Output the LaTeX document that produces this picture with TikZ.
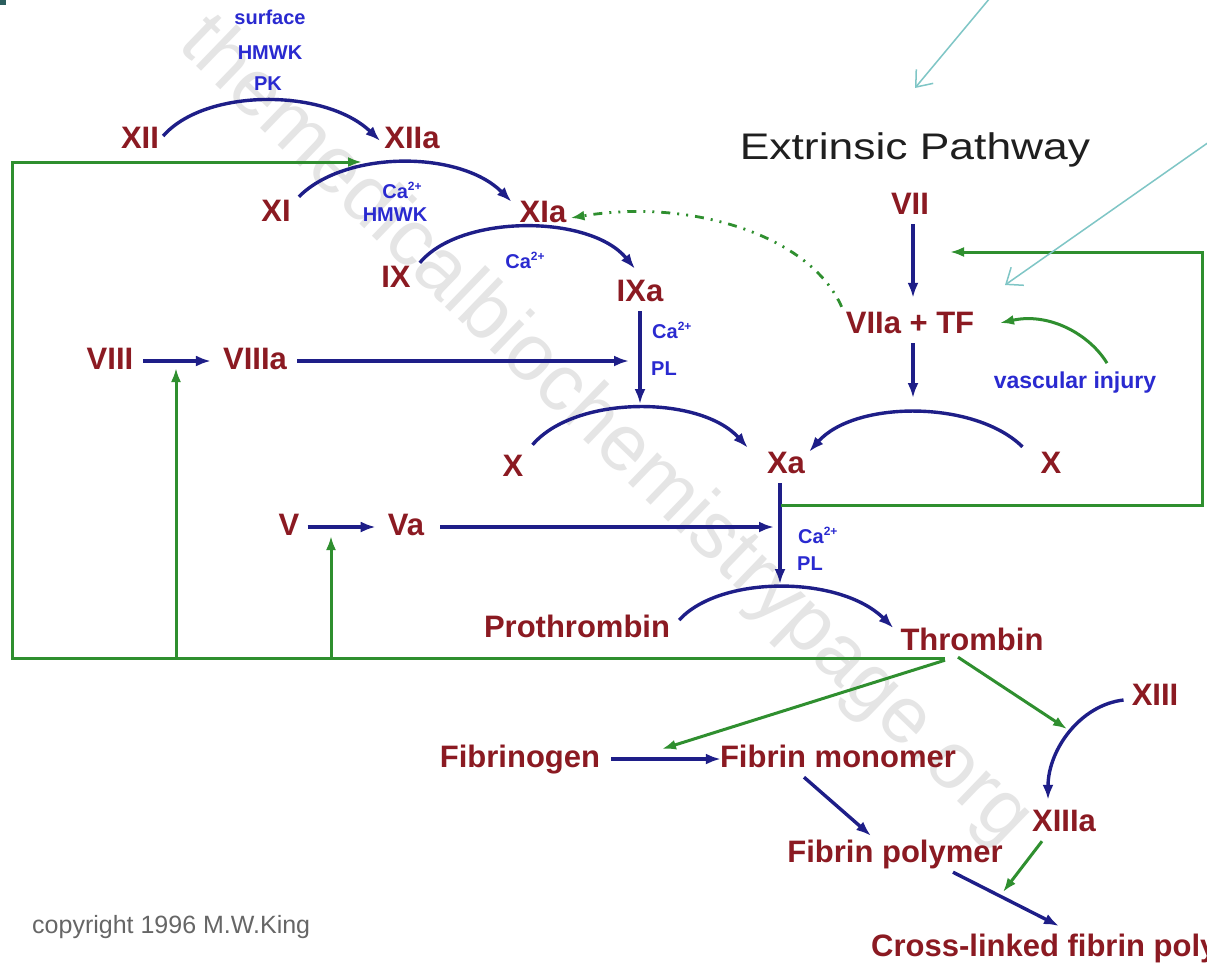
\documentclass[tikz,border=0pt]{standalone}
\usepackage{fontspec}
\setmainfont{Liberation Sans}
\newfontfamily\titlef[FakeStretch=1.2]{Liberation Sans}
\usetikzlibrary{arrows.meta}
\definecolor{redlab}{HTML}{8B1A22}
\definecolor{arrblue}{HTML}{1E1E88}
\definecolor{lblue}{HTML}{2A2AD0}
\definecolor{grn}{HTML}{2F8F2F}
\definecolor{cyanl}{HTML}{7FC6C6}
\definecolor{tealsq}{HTML}{2B5E5E}
\newcommand\caion{Ca\raisebox{8pt}{\fontsize{12}{12}\selectfont 2+}}
\begin{document}
\begin{tikzpicture}[x=1pt,y=-1pt,
  rlab/.style={font=\bfseries\fontsize{31}{31}\selectfont, text=redlab, inner sep=4pt, text height=22pt, text depth=6pt, anchor=base},
  blab/.style={font=\bfseries\fontsize{20}{20}\selectfont, text=lblue, inner sep=0pt, anchor=base},
  barr/.style={draw=arrblue, line width=3.4pt, -{Latex[length=15pt,width=11pt]}},
  garr/.style={draw=grn, line width=3pt, -{Latex[length=14pt,width=10pt]}},
  carr/.style={draw=cyanl, line width=1.5pt, -{Straight Barb[length=14pt,width=22pt]}}]
\useasboundingbox (0,0) rectangle (1207,962);
\fill[white] (0,0) rectangle (1207,962);
\clip (0,0) rectangle (1207,962);
% watermark
\node[rotate=-44, text=gray!20, font=\fontsize{80}{80}\selectfont] (wm) at (605,432) {themedicalbiochemistrypage.org};
\fill[tealsq] (0,0) rectangle (6,5);
% title and copyright
\node[font=\titlef\fontsize{37}{37}\selectfont, text=black!88, anchor=base] (title) at (915,159) {Extrinsic Pathway};
\node[anchor=base west, font=\fontsize{25}{25}\selectfont, text=black!60, inner sep=0pt] (copy) at (32,933) {copyright 1996 M.W.King};
% red labels
\node[rlab] (XII) at (140,148) {XII};
\node[rlab] (XIIa) at (412,148) {XIIa};
\node[rlab] (XI) at (276,221) {XI};
\node[rlab] (XIa) at (543,222) {XIa};
\node[rlab] (IX) at (396,287) {IX};
\node[rlab] (IXa) at (640,301) {IXa};
\node[rlab] (VIII) at (110,369) {VIII};
\node[rlab] (VIIIa) at (255,369) {VIIIa};
\node[rlab] (Xl) at (513,476) {X};
\node[rlab] (Xa) at (786,473) {Xa};
\node[rlab] (Xr) at (1051,473) {X};
\node[rlab] (V) at (289,535) {V};
\node[rlab] (Va) at (406,535) {Va};
\node[rlab] (VII) at (910,214) {VII};
\node[rlab] (VIIaTF) at (910,333) {VIIa + TF};
\node[rlab] (Pro) at (577,637) {Prothrombin};
\node[rlab] (Thr) at (972,650) {Thrombin};
\node[rlab] (XIII) at (1155,705) {XIII};
\node[rlab] (XIIIa) at (1064,831) {XIIIa};
\node[rlab] (Fg) at (520,767) {Fibrinogen};
\node[rlab] (Fm) at (838,767) {Fibrin monomer};
\node[rlab] (Fp) at (895,862) {Fibrin polymer};
\node[rlab, anchor=base west] (CL) at (867,956) {Cross-linked fibrin polymer};
% blue labels
\node[blab] (surf) at (270,24) {surface};
\node[blab] (hmwk1) at (270,59) {HMWK};
\node[blab] (pk) at (268,90) {PK};
\node[blab] (ca1) at (402,198) {\caion};
\node[blab] (hmwk2) at (395,221) {HMWK};
\node[blab] (ca2) at (525,268) {\caion};
\node[blab, anchor=base west] (ca3) at (652,338) {\caion};
\node[blab, anchor=base west] (pl1) at (651,375) {PL};
\node[blab, anchor=base west] (ca4) at (798,543) {\caion};
\node[blab, anchor=base west] (pl2) at (797,570) {PL};
\node[blab, font=\bfseries\fontsize{23}{23}\selectfont] (vi) at (1075,388) {vascular injury};
% coordinates on connectors
\coordinate (pk1) at (640,404);
\coordinate (pk2) at (913,398);
\coordinate (pk3) at (780,584);
\coordinate (ixl) at (629,361);
\coordinate (xvl) at (774,527);
\coordinate (xiarc) at (362,162);
\coordinate (gj) at (945,658);
\coordinate (cBL) at (12,658);
\coordinate (cTL) at (12,162);
\coordinate (gu1) at (176,658);
\coordinate (vup1) at (176,368);
\coordinate (gu2) at (331,658);
\coordinate (vup2) at (331,536);
\coordinate (xg) at (781,505);
\coordinate (cBR) at (1202,505);
\coordinate (cTR) at (1202,252);
\coordinate (vg) at (950,252);
\coordinate (vit) at (1000,323);
\coordinate (g13) at (1067,729);
\coordinate (fgt) at (662,749);
\coordinate (cla) at (1003,892);
\coordinate (clt) at (1059,926);
\coordinate (cy1s) at (990,-2);
\coordinate (cy1t) at (915,88);
\coordinate (cy2s) at (1209,142);
\coordinate (cy2t) at (1005,285);
% blue arcs
\draw[barr] ([yshift=4pt]XII.east) .. controls (205,88) and (325,88) .. ([yshift=-1pt]XIIa.west);
\draw[barr] ([xshift=4pt,yshift=-2pt]XI.north east) .. controls (345,150) and (460,150) .. ([xshift=-4pt,yshift=-6pt]XIa.north west);
\draw[barr] ([xshift=5pt,yshift=-2pt]IX.north east) .. controls (460,214) and (590,214) .. ([xshift=-5pt,yshift=6pt]IXa.north);
\draw[barr] ([xshift=5pt,yshift=5pt]Xl.north east) .. controls (575,395) and (700,395) .. ([xshift=-15pt,yshift=-1pt]Xa.north west);
\draw[barr] ([xshift=-14pt]Xr.north west) .. controls (975,400) and (855,400) .. ([yshift=-5pt]Xa.north east);
\draw[barr] ([xshift=5pt,yshift=9pt]Pro.east) .. controls (720,575) and (840,575) .. ([xshift=-3pt,yshift=14pt]Thr.west);
\draw[barr] ([xshift=-4pt,yshift=-3pt]XIII.west) .. controls (1080,705) and (1048,750) .. ([xshift=-16pt,yshift=5pt]XIIIa.north);
% blue straight arrows
\draw[barr] (IXa.south) -- (pk1);
\draw[barr] ([xshift=6pt]VIIIa.east) -- (ixl);
\draw[barr] ([xshift=6pt]VIII.east) -- ([xshift=-8pt]VIIIa.west);
\draw[barr] ([xshift=4pt]V.east) -- ([xshift=-8pt]Va.west);
\draw[barr] ([xshift=12pt]Va.east) -- (xvl);
\draw[barr] ([xshift=-6pt]Xa.south) -- (pk3);
\draw[barr] ([xshift=3pt]VII.south) -- ([xshift=3pt,yshift=9pt]VIIaTF.north);
\draw[barr] ([xshift=3pt]VIIaTF.south) -- (pk2);
\draw[barr] ([xshift=7pt]Fg.east) -- ([xshift=5pt]Fm.west);
\draw[barr] ([xshift=-34pt]Fm.south) -- ([xshift=-24pt]Fp.north);
\draw[barr] ([xshift=58pt]Fp.south) -- (clt);
% green connectors
\draw[garr] (gj) -- (cBL) -- (cTL) -- (xiarc);
\draw[garr] (gu1) -- (vup1);
\draw[garr] (gu2) -- (vup2);
\draw[garr] (xg) -- (cBR) -- (cTR) -- (vg);
\draw[garr] ([xshift=32pt,yshift=8pt]vi.north) .. controls (1090,335) and (1050,312) .. (vit);
\draw[garr] ([xshift=-27pt]Thr.south) -- (fgt);
\draw[garr] ([xshift=-14pt,yshift=3pt]Thr.south) -- (g13);
\draw[garr] ([xshift=-22pt]XIIIa.south) -- (cla);
\draw[draw=grn, line width=2.8pt, dash pattern=on 9pt off 7pt on 2pt off 7pt on 2pt off 7pt, -{Latex[length=14pt,width=10pt]}]
  (VIIaTF.north west) .. controls (810,235) and (690,198) .. ([yshift=-4pt]XIa.east);
% cyan annotation arrows
\draw[carr] (cy1s) -- (cy1t);
\draw[carr] (cy2s) -- (cy2t);
\end{tikzpicture}
\end{document}
